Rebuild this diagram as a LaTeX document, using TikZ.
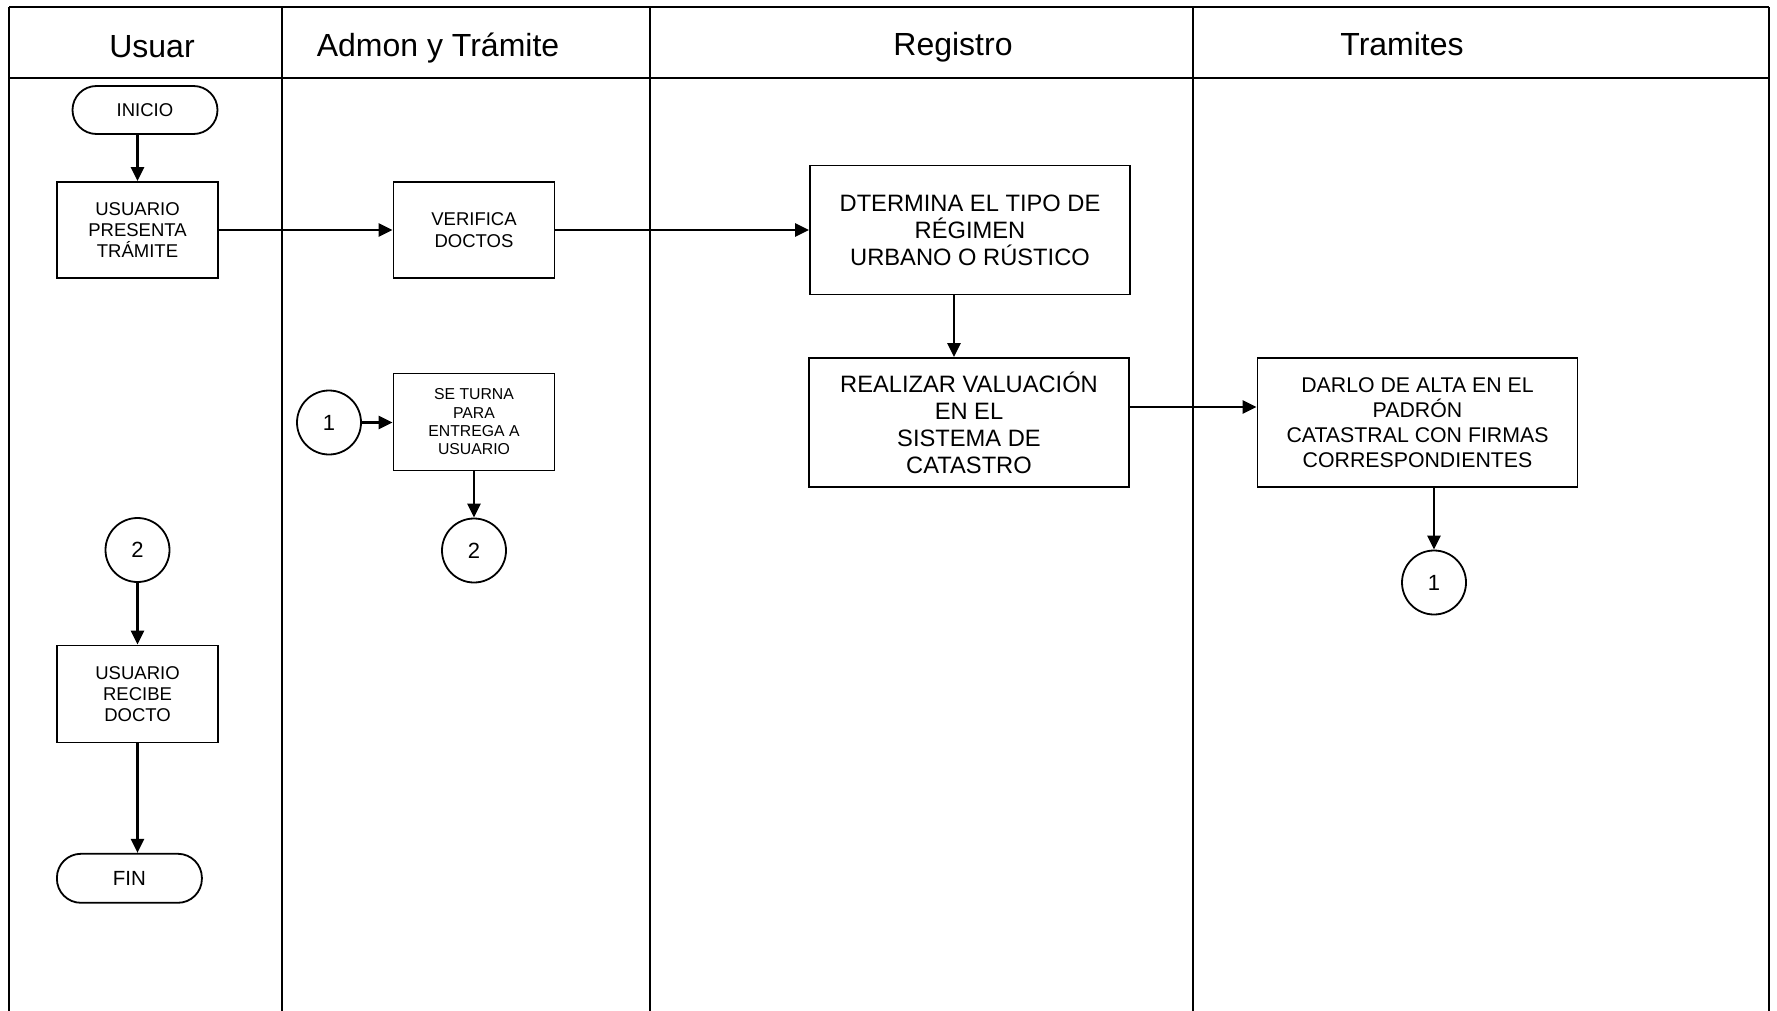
\documentclass[tikz,border=0pt]{standalone}
\usepackage{fontspec}
\setmainfont{Liberation Sans}
\usetikzlibrary{arrows.meta,calc}
\begin{document}
\begin{tikzpicture}[x=1pt,y=-1pt,
  lane/.style={line width=2pt},
  box/.style={draw,line width=1.8pt,rectangle,align=center,inner sep=0pt},
  term/.style={draw,line width=1.8pt,rectangle,rounded corners=24pt,align=center,inner sep=0pt,minimum width=145pt,minimum height=48pt,font=\fontsize{18.5}{21}\selectfont},
  conn/.style={draw,line width=1.8pt,circle,minimum size=64pt,inner sep=0pt,font=\fontsize{22}{26}\selectfont},
  small/.style={box,minimum width=161pt,minimum height=96pt,font=\fontsize{18.5}{21.3}\selectfont},
  big/.style={box,minimum width=320pt,minimum height=129pt},
  tiny/.style={box,minimum width=161pt,minimum height=97pt,font=\fontsize{15.8}{18.3}\selectfont},
  head/.style={anchor=base,font=\fontsize{32}{36}\selectfont},
  arr/.style={line width=2.5pt,-{Triangle[length=14pt,width=13pt]}}
]
\useasboundingbox (0,0) rectangle (1777,1011);
\fill[white] (0,0) rectangle (1777,1011);
% frame
\draw[lane] (9,7) -- (1769,7);
\draw[lane] (9,78) -- (1769,78);
\draw[lane] (9,7) -- (9,1011);
\draw[lane] (281.5,7) -- (281.5,1011);
\draw[lane] (649.5,7) -- (649.5,1011);
\draw[lane] (1193,7) -- (1193,1011);
\draw[lane] (1769,7) -- (1769,1011);
% headers
\node[head] (h1) at (152,58) {Usuar};
\node[head] (h2) at (438,56.5) {Admon y Trámite};
\node[head] (h3) at (953,56) {Registro};
\node[head] (h4) at (1402,56) {Tramites};
% nodes
\node[term] (inicio) at (145,110) {INICIO};
\node[small] (usr1) at (137.5,230) {USUARIO\\PRESENTA\\TRÁMITE};
\node[small] (verif) at (474,230) {VERIFICA\\DOCTOS};
\node[big,font=\fontsize{23.7}{27}\selectfont] (dtermina) at (970,230) {DTERMINA EL TIPO DE\\RÉGIMEN\\URBANO O RÚSTICO};
\node[big,font=\fontsize{23.7}{27}\selectfont] (realizar) at (969,422.5) {REALIZAR VALUACIÓN\\EN EL\\SISTEMA DE\\CATASTRO};
\node[big,font=\fontsize{21.3}{25}\selectfont] (darlo) at (1417.5,422.5) {DARLO DE ALTA EN EL\\PADRÓN\\CATASTRAL CON FIRMAS\\CORRESPONDIENTES};
\node[conn] (c1a) at (329,422.5) {1};
\node[tiny] (seturna) at (474,422) {SE TURNA\\PARA\\ENTREGA A\\USUARIO};
\node[conn] (c2a) at (474,550.5) {2};
\node[conn] (c2b) at (137.5,550) {2};
\node[small,minimum height=97pt] (recibe) at (137.5,694) {USUARIO\\RECIBE\\DOCTO};
\node[term,minimum height=49pt,font=\fontsize{20.5}{24}\selectfont] (fin) at (129.4,878.3) {FIN};
\node[conn] (c1b) at (1434,582.5) {1};
% connectors
\draw[arr] (inicio.south -| usr1.north) -- (usr1.north);
\draw[arr] (usr1.east) -- (verif.west);
\draw[arr] (verif.east) -- (dtermina.west);
\draw[arr] ([xshift=-16pt]dtermina.south) -- ([xshift=-16pt]dtermina.south |- realizar.north);
\draw[arr] ([yshift=15.5pt]realizar.east) -- ([yshift=15.5pt]realizar.east -| darlo.west);
\draw[arr] (c1b.north |- darlo.south) -- (c1b.north);
\draw[arr] (c1a.east) -- (c1a.east -| seturna.west);
\draw[arr] (seturna.south) -- (c2a.north);
\draw[arr] (c2b.south) -- (recibe.north);
\draw[arr] (recibe.south) -- (recibe.south |- fin.north);
\end{tikzpicture}
\end{document}
